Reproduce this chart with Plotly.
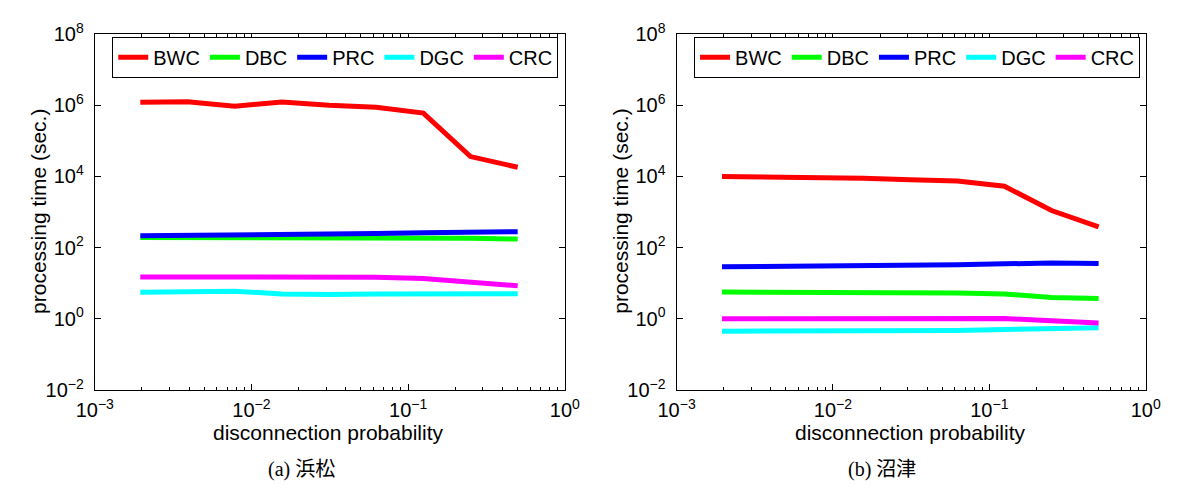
import plotly.graph_objects as go

# disconnection probability
x_prob = [0.001953, 0.003906, 0.007813, 0.015625, 0.03125, 0.0625, 0.125, 0.25, 0.5]
series_names = ["BWC", "DBC", "PRC", "DGC", "CRC"]
colors = ["#FF0000", "#00FF00", "#0000FF", "#00FFFF", "#FF00FF"]

# (a) 浜松
hama_BWC = [1.2e6, 1.25e6, 9.4e5, 1.23e6, 1.0e6, 8.7e5, 6.0e5, 3.6e4, 1.8e4]
hama_DBC = [193, 193, 194, 195, 196, 196, 193, 182, 174]
hama_PRC = [215, 218, 222, 228, 235, 248, 262, 275, 280]
hama_DGC = [5.6, 6.0, 6.0, 5.0, 4.8, 5.0, 5.0, 5.1, 5.1]
hama_CRC = [15, 15, 15, 15, 15, 14.8, 13.5, 10.5, 8.5]

# (b) 沼津
numa_BWC = [1.0e4, 9.8e3, 9.4e3, 8.9e3, 8.1e3, 7.4e3, 5.3e3, 1.1e3, 380]
numa_DBC = [5.7, 5.7, 5.7, 5.7, 5.5, 5.3, 5.0, 4.0, 3.7]
numa_PRC = [29, 29.5, 30, 31, 32, 33, 35, 37, 36]
numa_DGC = [0.45, 0.45, 0.45, 0.45, 0.45, 0.47, 0.5, 0.54, 0.56]
numa_CRC = [1.0, 1.0, 1.0, 1.0, 1.08, 1.08, 1.02, 0.88, 0.77]

x_tickvals = [1e-3, 1e-2, 1e-1, 1e0]
x_ticktext = ["10<sup>−3</sup>", "10<sup>−2</sup>", "10<sup>−1</sup>", "10<sup>0</sup>"]
x_minor = [m * d for d in (1e-3, 1e-2, 1e-1) for m in range(2, 10)]
y_tickvals = [1e-2, 1e0, 1e2, 1e4, 1e6, 1e8]
y_ticktext = ["10<sup>−2</sup>", "10<sup>0</sup>", "10<sup>2</sup>", "10<sup>4</sup>", "10<sup>6</sup>", "10<sup>8</sup>"]

x_title = "disconnection probability"
y_title = "processing time (sec.)"
captions = ["(a) 浜松", "(b) 沼津"]

W, H = 1184, 497
fig = go.Figure()

panels = [
    ("x", "y", "legend", [hama_BWC, hama_DBC, hama_PRC, hama_DGC, hama_CRC]),
    ("x2", "y2", "legend2", [numa_BWC, numa_DBC, numa_PRC, numa_DGC, numa_CRC]),
]
for xa, ya, lg, data in panels:
    for name, col, vals in zip(series_names, colors, data):
        fig.add_trace(go.Scatter(
            x=x_prob, y=vals, name=name, mode="lines",
            line=dict(color=col, width=5),
            xaxis=xa, yaxis=ya, legend=lg,
        ))

font_sans = "Liberation Sans, Arial, sans-serif"

def xaxis(domain, anchor):
    return dict(
        domain=domain, anchor=anchor, type="log", range=[-3, 0],
        tickvals=x_tickvals, ticktext=x_ticktext,
        ticks="inside", ticklen=6, tickcolor="black", tickwidth=1,
        minor=dict(tickvals=x_minor, ticks="inside", ticklen=3, tickcolor="black", tickwidth=1),
        showline=True, linecolor="black", linewidth=1, mirror="ticks",
        showgrid=False, zeroline=False, ticklabelstandoff=2,
        tickfont=dict(family=font_sans, size=20, color="black"),
    )

def yaxis(domain, anchor):
    return dict(
        domain=domain, anchor=anchor, type="log", range=[-2, 8],
        tickvals=y_tickvals, ticktext=y_ticktext,
        ticks="inside", ticklen=6, tickcolor="black", tickwidth=1,
        showline=True, linecolor="black", linewidth=1, mirror="ticks",
        showgrid=False, zeroline=False, ticklabelstandoff=6,
        tickfont=dict(family=font_sans, size=20, color="black"),
    )

yd = [1 - 396 / H, 1 - 21 / H]
xd1 = [78 / W, 562 / W]
xd2 = [677 / W, 1160 / W]

legend_common = dict(
    orientation="h", xanchor="left", yanchor="top",
    bordercolor="black", borderwidth=1, bgcolor="white",
    font=dict(family=font_sans, size=20, color="black"),
    itemwidth=30,
)

fig.update_layout(
    width=W, height=H,
    margin=dict(l=0, r=0, t=0, b=0),
    paper_bgcolor="white", plot_bgcolor="white",
    xaxis=xaxis(xd1, "y"), yaxis=yaxis(yd, "x"),
    xaxis2=xaxis(xd2, "y2"), yaxis2=yaxis(yd, "x2"),
    legend=dict(x=96 / W, y=1 - 24 / H, **legend_common),
    legend2=dict(x=695 / W, y=1 - 24 / H, **legend_common),
)

annos = []
for xc_title, xc_ylab, xc_cap, cap in [(318, 20, 291, captions[0]), (917, 619, 889, captions[1])]:
    annos.append(dict(x=xc_title / W, y=1 - 441 / H, xref="paper", yref="paper",
                      text=x_title, showarrow=False, xanchor="center", yanchor="middle",
                      font=dict(family=font_sans, size=21, color="black")))
    annos.append(dict(x=xc_ylab / W, y=1 - 208 / H, xref="paper", yref="paper",
                      text=y_title, showarrow=False, textangle=-90,
                      xanchor="center", yanchor="middle",
                      font=dict(family=font_sans, size=21, color="black")))
    annos.append(dict(x=xc_cap / W, y=1 - 480 / H, xref="paper", yref="paper",
                      text=cap, showarrow=False, xanchor="center", yanchor="middle",
                      font=dict(family="Liberation Serif, Noto Sans CJK JP, serif", size=20, color="black")))
fig.update_layout(annotations=annos)

fig.write_html("out.html")
